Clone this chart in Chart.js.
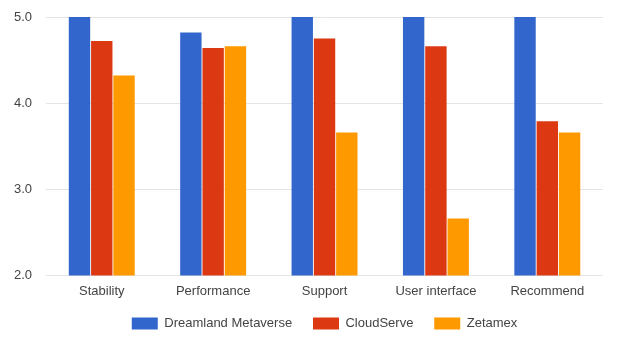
<!DOCTYPE html>
<html>
<head>
<meta charset="utf-8">
<script src="https://cdn.jsdelivr.net/npm/chart.js@4/dist/chart.umd.min.js"></script>
<style>
    html, body { margin: 0; padding: 0; background: #fff; }
    #wrap { width: 635px; height: 350px; }
</style>
</head>
<body>
<div id="wrap"><canvas id="ratings"></canvas></div>
<script>
const categories = ['Stability', 'Performance', 'Support', 'User interface', 'Recommend'];
const dreamland = [5.0, 4.82, 5.0, 5.0, 5.0];
const cloudServe = [4.72, 4.64, 4.75, 4.66, 3.79];
const zetamex = [4.32, 4.66, 3.66, 2.66, 3.66];
const yTicks = [2, 3, 4, 5];

Chart.defaults.font.family = "'Liberation Sans', Arial, sans-serif";
Chart.defaults.font.size = 13;
Chart.defaults.color = '#444';

const ctx = document.getElementById('ratings').getContext('2d');
const ratingsChart = new Chart(ctx, {
    type: 'bar',
    data: {
        labels: categories,
        datasets: [
            { label: 'Dreamland Metaverse', data: dreamland, backgroundColor: '#3366cc' },
            { label: 'CloudServe', data: cloudServe, backgroundColor: '#dc3912' },
            { label: 'Zetamex', data: zetamex, backgroundColor: '#ff9900' }
        ]
    },
    options: {
        responsive: true,
        maintainAspectRatio: false,
        animation: false,
        layout: { padding: { left: 0, right: 32, top: 17, bottom: 10 } },
        datasets: {
            bar: { categoryPercentage: 0.6, barPercentage: 0.96 }
        },
        scales: {
            x: {
                grid: { display: false, drawTicks: false },
                border: { display: false },
                ticks: { padding: 8 }
            },
            y: {
                min: 2,
                max: 5,
                afterBuildTicks: axis => { axis.ticks = yTicks.map(v => ({ value: v })); },
                // tick padding would otherwise also push the plot top down
                afterFit: axis => { axis.paddingTop = 0; },
                grid: { color: '#e4e4e4', drawTicks: false },
                border: { display: false },
                ticks: {
                    padding: 14,
                    callback: value => value.toFixed(1)
                }
            }
        },
        plugins: {
            legend: {
                position: 'bottom',
                fullSize: false,
                labels: {
                    boxWidth: 26,
                    boxHeight: 12,
                    padding: 10,
                    // wider gap between items without pushing the row down
                    generateLabels: chart => {
                        const items = Chart.defaults.plugins.legend.labels.generateLabels(chart);
                        items.forEach((item, i) => {
                            if (i < items.length - 1) item.text += '\u00a0\u00a0\u00a0';
                        });
                        return items;
                    }
                }
            },
            tooltip: { enabled: false }
        }
    }
});
</script>
</body>
</html>
